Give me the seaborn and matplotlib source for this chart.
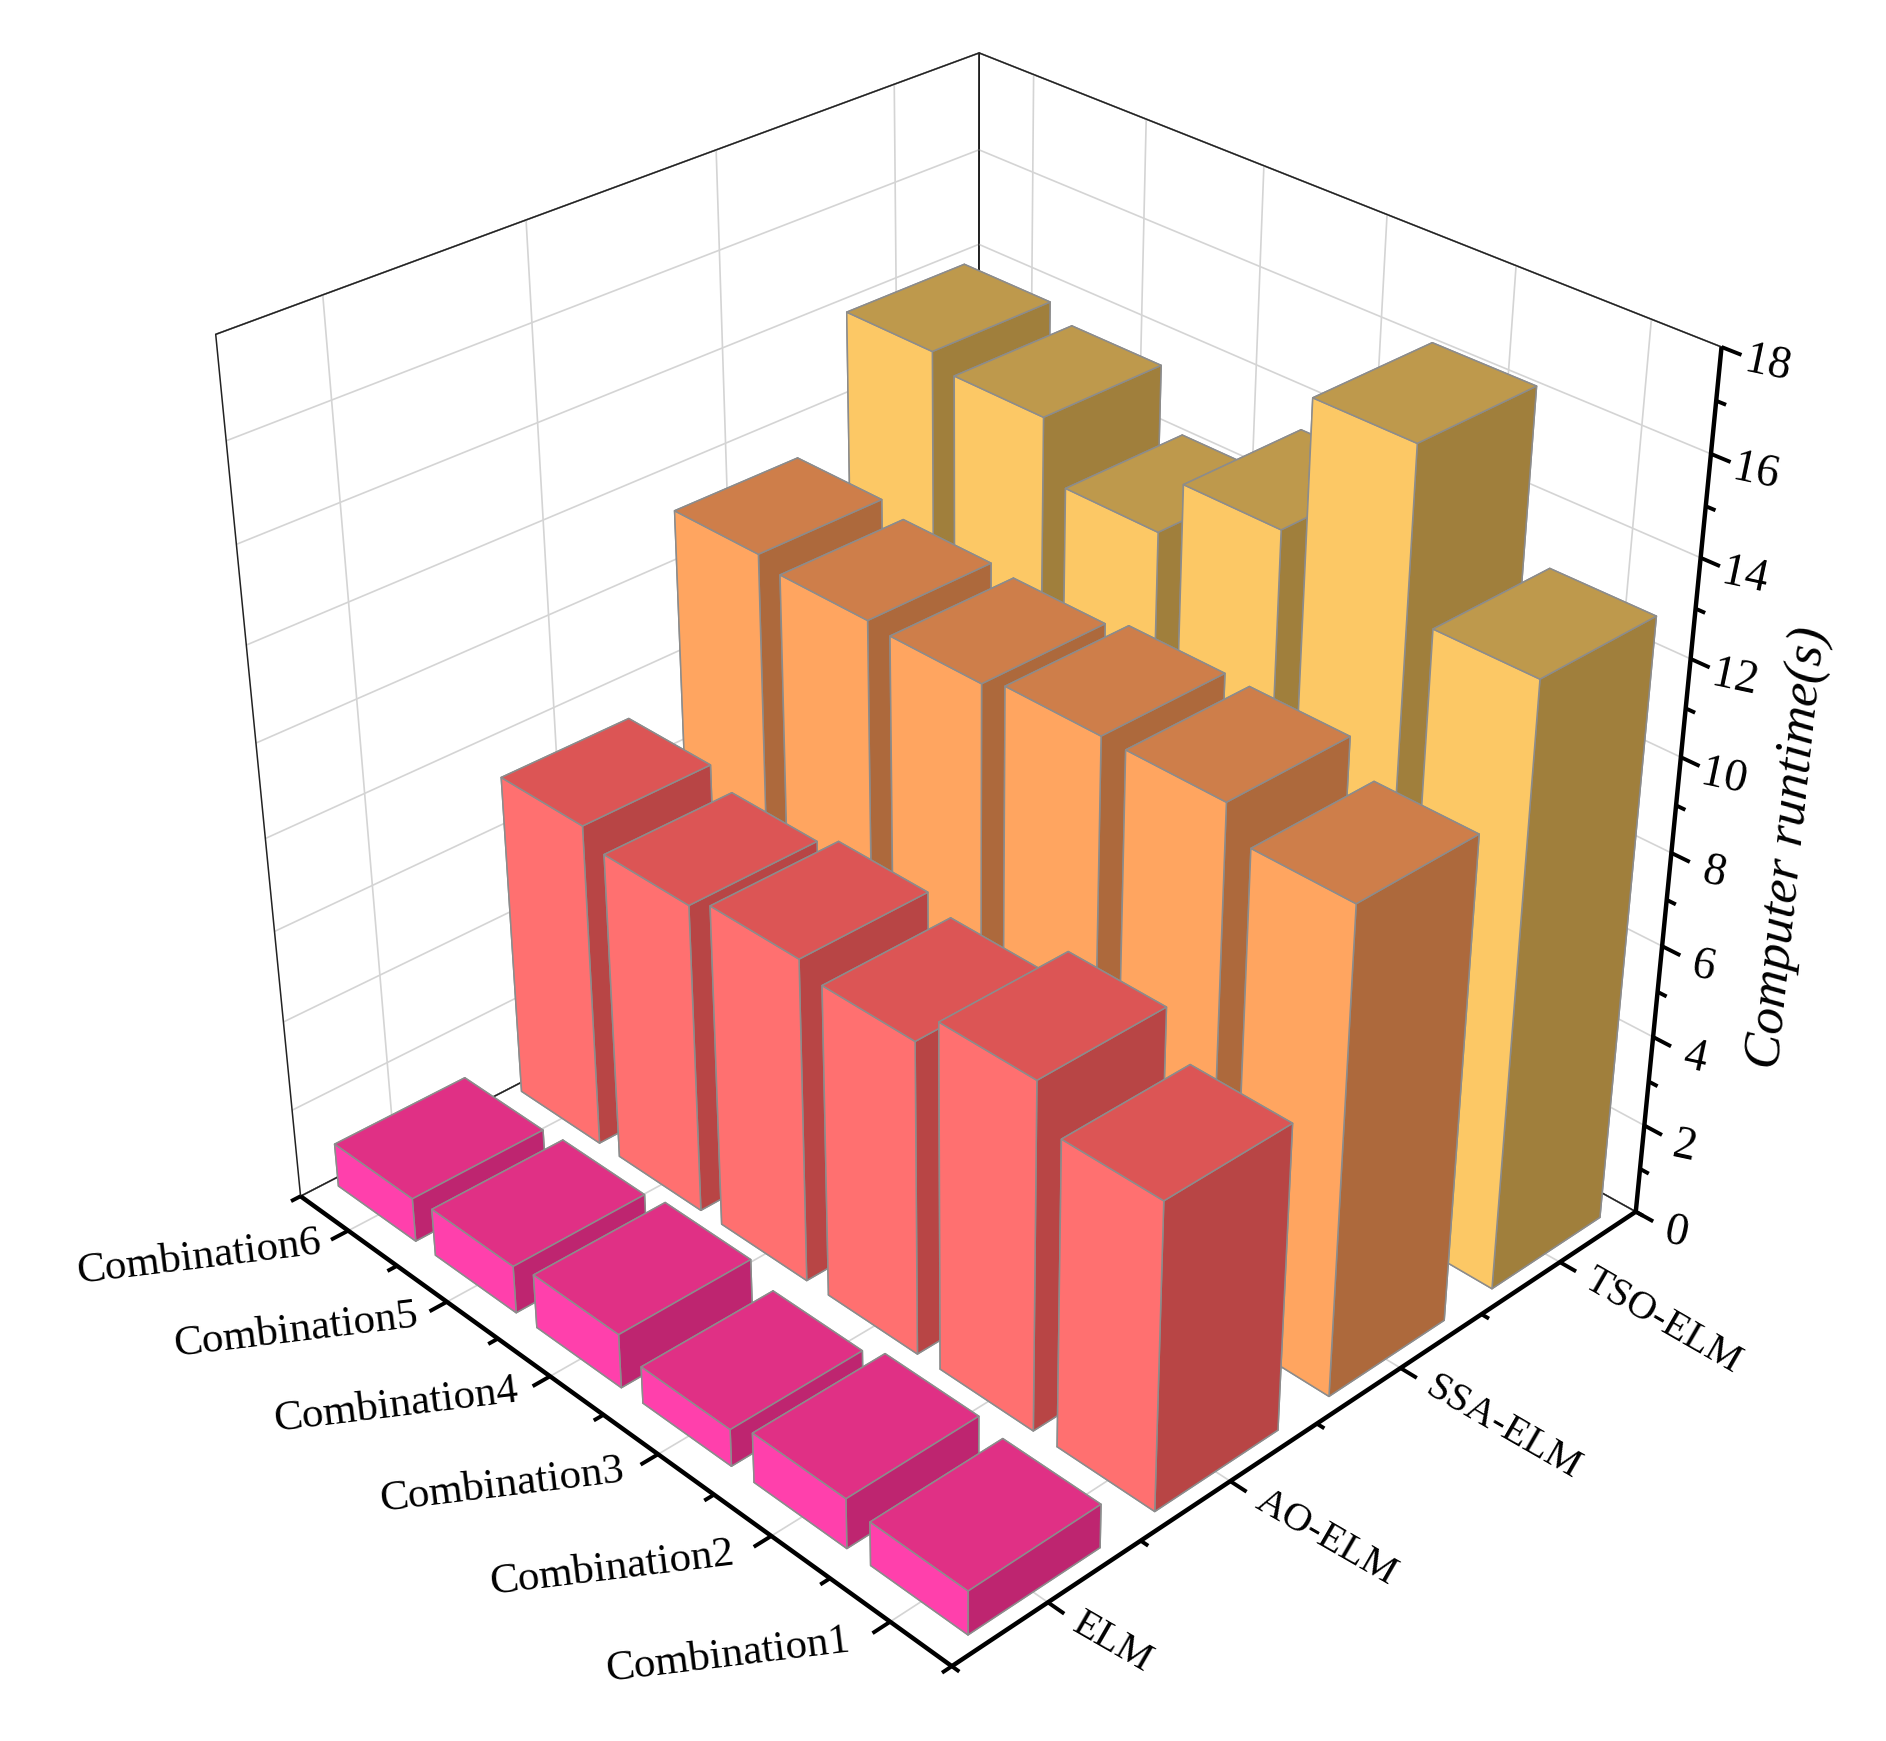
import numpy as np
import matplotlib
matplotlib.use('Agg')
import matplotlib.pyplot as plt
import seaborn as sns
from mpl_toolkits.mplot3d import proj3d

models = ['ELM', 'AO-ELM', 'SSA-ELM', 'TSO-ELM']
combos = ['Combination1', 'Combination2', 'Combination3', 'Combination4', 'Combination5', 'Combination6']
elm = [0.96, 1.1, 0.82, 1.2, 1.06, 0.98]
ao = [6.65, 7.55, 6.85, 7.12, 6.85, 7.2]
ssa = [10.45, 11.1, 11.12, 10.92, 11.0, 11.2]
tso = [12.95, 16.3, 13.5, 12.3, 13.55, 13.85]
z_ticks = [0, 2, 4, 6, 8, 10, 12, 14, 16, 18]

# left face, top, right face for each model
front_cols = ['#FF40AC', '#FF7070', '#FFA560', '#FCC865']
top_cols = ['#E03085', '#DC5555', '#CE7E4A', '#BE994C']
side_cols = ['#BE2570', '#B84545', '#AD693C', '#A07F3C']

sns.set_theme(style='white', rc={'grid.color': '#d4d4d4', 'grid.linewidth': 1.2})
plt.rcParams['font.family'] = ['Liberation Serif', 'DejaVu Serif']

fig = plt.figure(figsize=(18.86, 17.41), dpi=100)
ax = fig.add_axes([0.0, 0.028, 1.0, 1.0], projection='3d', computed_zorder=False)
ax.set_proj_type('persp', focal_length=0.47)
ax.view_init(elev=31.7, azim=-133.9)
ax.set_box_aspect((1, 1, 1.01), zoom=0.97)

values = [elm, ao, ssa, tso]
bar_dx, bar_dy = 0.70, 0.80
order = 10
for i in range(len(models) - 1, -1, -1):
    for j in range(len(combos) - 1, -1, -1):
        # faces: bottom, top, -y, +y, -x, +x
        cols = [side_cols[i], top_cols[i], side_cols[i], side_cols[i], front_cols[i], side_cols[i]]
        ax.bar3d(i + 1.01 - bar_dx / 2, j + 1.02 - bar_dy / 2, 0, bar_dx, bar_dy, values[i][j],
                 color=cols, shade=False, edgecolor='#8c8c8c', linewidth=1.1, zorder=order)
        order += 1

xmin, xmax = 0.5, len(models) + 0.5
ymin, ymax = 0.5, len(combos) + 0.5
ax.set_xlim(xmin, xmax)
ax.set_ylim(ymin, ymax)
ax.set_zlim(0, 18)
ax.set_xticks(range(1, len(models) + 1))
ax.set_yticks(range(1, len(combos) + 1))
ax.set_zticks(z_ticks)
ax.set_xticklabels([])
ax.set_yticklabels([])
ax.set_zticklabels([])

for axis in [ax.xaxis, ax.yaxis, ax.zaxis]:
    axis.set_pane_color('white')
    axis.pane.set_edgecolor('black')
    axis.pane.set_linewidth(1.0)
    axis.line.set_color('none')
    axis._axinfo['tick']['inward_factor'] = 0
    axis._axinfo['tick']['outward_factor'] = 0

# thin box edges behind the bars
bkw = dict(color='#222222', zorder=5, lw=1.1)
ax.plot([xmin, xmin, xmax, xmax], [ymax, ymax, ymax, ymin], [0, 18, 18, 18], **bkw)
ax.plot([xmax, xmax], [ymax, ymax], [0, 18], **bkw)
ax.plot([xmin, xmax, xmax], [ymax, ymax, ymin], [0, 0, 0], **bkw)

# thick axes and ticks
kw = dict(color='black', zorder=500, solid_capstyle='butt', lw=3.2)
ax.plot([xmin, xmax], [ymin, ymin], [0, 0], **kw)
ax.plot([xmin, xmin], [ymin, ymax], [0, 0], **kw)
ax.plot([xmax, xmax], [ymin, ymin], [0, 18], **kw)


def label(x, y, z, s, **text_kw):
    # mplot3d drops the rotation of its own text, so place it in 2D
    px, py, _ = proj3d.proj_transform(x, y, z, ax.get_proj())
    ax.text2D(px, py, s, transform=ax.transData, color='black', va='center',
              rotation_mode='anchor', **text_kw)


tkw = dict(color='black', zorder=500, solid_capstyle='butt', lw=2.8)
for k in np.arange(1, len(models) + 1):
    ax.plot([k, k], [ymin, ymin - 0.13], [0, 0], **tkw)
    label(k, ymin - 0.22, 0, models[k - 1], fontsize=29, rotation=-30, ha='left')
for k in np.arange(0.5, len(models) + 1):
    ax.plot([k, k], [ymin, ymin - 0.06], [0, 0], **tkw)
for k in np.arange(1, len(combos) + 1):
    ax.plot([xmin, xmin - 0.09], [k, k], [0, 0], **tkw)
    label(xmin - 0.56, k + 0.42, 0, combos[k - 1], fontsize=31, rotation=7, ha='center')
for k in np.arange(0.5, len(combos) + 1):
    ax.plot([xmin, xmin - 0.05], [k, k], [0, 0], **tkw)
for z in z_ticks:
    ax.plot([xmax, xmax], [ymin, ymin - 0.14], [z, z], **tkw)
    label(xmax, ymin - 0.32, z, str(z), fontsize=33, rotation=-12, ha='center')
for z in np.arange(1, 18, 2):
    ax.plot([xmax, xmax], [ymin, ymin - 0.07], [z, z], **tkw)

fig.text(1789 / 1886, 1 - 848 / 1741, 'Computer runtime(s)', fontsize=38, style='italic',
         rotation=84, ha='center', va='center', color='black')

fig.savefig('out.png', dpi=100)
